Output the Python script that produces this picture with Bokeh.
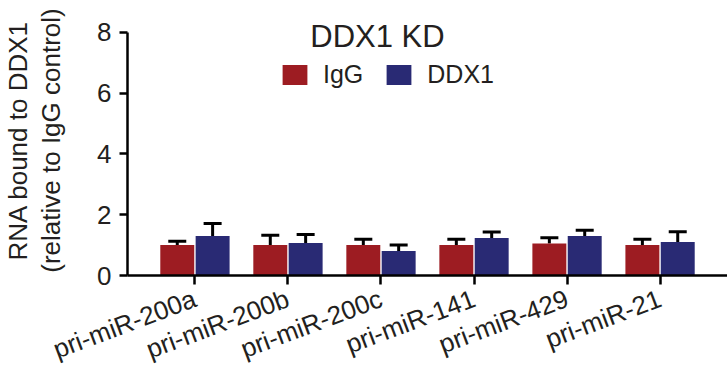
from bokeh.plotting import figure
from bokeh.models import (ColumnDataSource, FactorRange, Range1d, Whisker, TeeHead,
                          Legend, LegendItem, Label, FixedTicker)
from bokeh.transform import dodge
from bokeh.embed import file_html
from bokeh.resources import INLINE

categories = ["pri-miR-200a", "pri-miR-200b", "pri-miR-200c", "pri-miR-141", "pri-miR-429", "pri-miR-21"]
igg = [1.00, 1.00, 1.00, 1.00, 1.05, 1.00]
igg_err = [0.13, 0.32, 0.19, 0.19, 0.19, 0.19]
ddx1 = [1.30, 1.07, 0.81, 1.23, 1.30, 1.10]
ddx1_err = [0.41, 0.28, 0.19, 0.20, 0.19, 0.34]
y_ticks = [0, 2, 4, 6, 8]
series_names = ["IgG", "DDX1"]
title_text = "DDX1 KD"
y_label = "RNA bound to DDX1\n(relative to IgG control)"

RED = "#9d1c22"
BLUE = "#292a74"
TXT = "#231f20"
FONT = "Liberation Sans"

src = ColumnDataSource(dict(
    cats=categories,
    igg=igg,
    igg_up=[v + e for v, e in zip(igg, igg_err)],
    ddx1=ddx1,
    ddx1_up=[v + e for v, e in zip(ddx1, ddx1_err)],
))

# layout: y=0 at 277 px, y=8 at 32 px; frame extends a bit above 8 so the
# in-frame title is not clipped; the axis line itself is bounded to 0..8
W, H = 727, 381
top_b, bot_b = 5, 104
px_per_unit = (277 - 32) / 8
y_end = (H - top_b - bot_b) / px_per_unit

p = figure(
    x_range=FactorRange(*categories, range_padding=0.225, range_padding_units="absolute"),
    y_range=Range1d(0, y_end),
    width=W, height=H,
    output_backend="svg", toolbar_location=None,
    min_border_left=127, min_border_right=0, min_border_top=top_b, min_border_bottom=bot_b,
)
p.background_fill_color = "white"
p.border_fill_color = "white"
p.outline_line_color = None
p.xgrid.visible = False
p.ygrid.visible = False

off = 0.19
bw = 0.365
r1 = p.vbar(x=dodge("cats", -off, range=p.x_range), top="igg", width=bw, source=src,
            fill_color=RED, line_color=None)
r2 = p.vbar(x=dodge("cats", off, range=p.x_range), top="ddx1", width=bw, source=src,
            fill_color=BLUE, line_color=None)

for key, o in (("igg", -off), ("ddx1", off)):
    w = Whisker(base=dodge("cats", o, range=p.x_range), upper=key + "_up", lower=key,
                source=src, line_width=3, line_color="black",
                upper_head=TeeHead(size=18, line_width=3, line_color="black"),
                lower_head=None)
    p.add_layout(w)

# y axis
ya = p.yaxis[0]
ya.ticker = FixedTicker(ticks=y_ticks)
ya.bounds = (0, 8)
ya.minor_tick_line_color = None
ya.major_tick_in = 0
ya.major_tick_out = 8
ya.major_tick_line_width = 2.5
ya.axis_line_width = 2.5
ya.major_label_text_font = FONT
ya.major_label_text_font_size = "26px"
ya.major_label_text_color = TXT
ya.major_label_standoff = 8
ya.axis_label = y_label
ya.axis_label_text_font = FONT
ya.axis_label_text_font_size = "26px"
ya.axis_label_text_font_style = "normal"
ya.axis_label_text_color = TXT
ya.axis_label_text_line_height = 1.1
ya.axis_label_standoff = 28

# x axis
xa = p.xaxis[0]
xa.major_tick_in = 0
xa.major_tick_out = 9
xa.major_tick_line_width = 2.5
xa.axis_line_width = 2.5
xa.major_label_text_font = FONT
xa.major_label_text_font_size = "26px"
xa.major_label_text_color = TXT
xa.major_label_orientation = 0.36
xa.major_label_standoff = 13

legend = Legend(
    items=[LegendItem(label=series_names[0], renderers=[r1]),
           LegendItem(label=series_names[1], renderers=[r2])],
    orientation="horizontal", location=(152, 186),
    glyph_width=31, glyph_height=25, label_standoff=13, spacing=20,
    label_text_font=FONT, label_text_font_size="25px", label_text_color=TXT,
    padding=0, margin=0, border_line_alpha=0, background_fill_alpha=0,
)
p.add_layout(legend)

p.add_layout(Label(x=250, y=239, x_units="screen", y_units="screen", text=title_text,
                   text_align="center", text_baseline="alphabetic",
                   text_font=FONT, text_font_size="31px", text_color=TXT))

open("out.html", "w").write(file_html(p, INLINE))
